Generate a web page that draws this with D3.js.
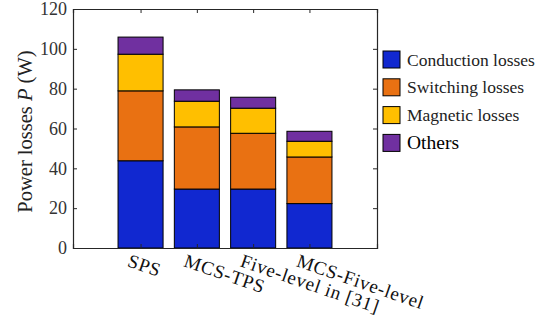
<!DOCTYPE html>
<html>
<head>
<meta charset="utf-8">
<script src="https://cdn.jsdelivr.net/npm/d3@7"></script>
<style>
  body { margin: 0; background: #fff; }
</style>
</head>
<body>
<svg id="chart" width="557" height="320"></svg>
<script>
// Datos
const categories = ['SPS', 'MCS-TPS', 'Five-level in [31]', 'MCS-Five-level'];
const seriesNames = ['Conduction losses', 'Switching losses', 'Magnetic losses', 'Others'];
const conduction = [43.8, 29.6, 29.6, 22.3];
const switching = [35.1, 31.2, 28.0, 23.4];
const magnetic = [18.4, 12.9, 12.6, 7.9];
const others = [8.6, 5.7, 5.5, 5.0];
const yTicks = [0, 20, 40, 60, 80, 100, 120];

const colors = ['#1128d0', '#e97112', '#ffbf00', '#7030a0'];
const axisColor = '#262626';
const FONT = '"Liberation Serif"';

const svg = d3.select('#chart');
const plot = { left: 73, right: 377, top: 9, bottom: 248 };

const x = d3.scaleLinear().domain([-0.2, 5.2]).range([plot.left, plot.right]);
const y = d3.scaleLinear().domain([0, 120]).range([plot.bottom, plot.top]);

// tabla para el stack
const table = categories.map((c, i) => ({
    idx: i + 1,
    cat: c,
    [seriesNames[0]]: conduction[i],
    [seriesNames[1]]: switching[i],
    [seriesNames[2]]: magnetic[i],
    [seriesNames[3]]: others[i]
}));
const stacked = d3.stack().keys(seriesNames)(table);

const barW = x(0.8) - x(0);

// Barras
const layers = svg.append('g').selectAll('g')
    .data(stacked)
    .join('g')
    .attr('fill', (d, i) => colors[i]);

layers.selectAll('rect')
    .data(d => d)
    .join('rect')
    .attr('x', d => x(d.data.idx) - barW / 2)
    .attr('width', barW)
    .attr('y', d => y(d[1]))
    .attr('height', d => y(d[0]) - y(d[1]))
    .attr('stroke', '#000')
    .attr('stroke-width', 1);

// Ejes (caja estilo MATLAB)
const tickLen = 4;
const axisL = svg.append('g')
    .attr('transform', `translate(${plot.left},0)`)
    .call(d3.axisLeft(y).tickValues(yTicks).tickSize(-tickLen).tickPadding(6));
const axisR = svg.append('g')
    .attr('transform', `translate(${plot.right},0)`)
    .call(d3.axisRight(y).tickValues(yTicks).tickSize(-tickLen).tickFormat(''));
const axisT = svg.append('g')
    .attr('transform', `translate(0,${plot.top})`)
    .call(d3.axisTop(x).tickValues([1, 2, 3, 4]).tickSize(-tickLen).tickFormat(''));
const axisB = svg.append('g')
    .attr('transform', `translate(0,${plot.bottom})`)
    .call(d3.axisBottom(x).tickValues([1, 2, 3, 4]).tickSize(-tickLen).tickFormat(''));

[axisL, axisR, axisT, axisB].forEach(a => {
    a.select('.domain').attr('stroke', axisColor).attr('stroke-width', 1.2);
    a.selectAll('.tick line').attr('stroke', axisColor);
});
axisL.selectAll('text')
    .style('font-family', FONT)
    .attr('font-size', 18)
    .attr('fill', '#333');

// Etiquetas de categoría, giradas
svg.append('g').selectAll('text')
    .data(categories)
    .join('text')
    .attr('transform', (d, i) => `translate(${x(i + 1) - 14},${plot.bottom + 18}) rotate(19)`)
    .style('font-family', FONT)
    .style('letter-spacing', '0.7px')
    .attr('font-size', 19)
    .attr('fill', '#111')
    .text(d => d);

// Título eje Y
const yl = svg.append('text')
    .attr('transform', `translate(32,${(plot.top + plot.bottom) / 2 + 3}) rotate(-90)`)
    .attr('text-anchor', 'middle')
    .style('font-family', FONT)
    .attr('font-size', 20.5)
    .attr('fill', '#222');
yl.append('tspan').text('Power losses ');
yl.append('tspan').attr('font-style', 'italic').text('P');
yl.append('tspan').text(' (W)');

// Leyenda
const legend = svg.append('g').attr('transform', 'translate(383,51)');
const rowH = 27.8;
seriesNames.forEach((name, i) => {
    const row = legend.append('g').attr('transform', `translate(0,${i * rowH})`);
    row.append('rect')
        .attr('width', 17).attr('height', 17)
        .attr('fill', colors[i])
        .attr('stroke', '#000').attr('stroke-width', 1);
    row.append('text')
        .attr('x', 24).attr('y', 14.5)
        .style('font-family', FONT)
        .attr('font-size', i === 3 ? 19.5 : 17.5)
        .attr('fill', i === 3 ? '#000' : '#222')
        .text(name);
});
</script>
</body>
</html>
